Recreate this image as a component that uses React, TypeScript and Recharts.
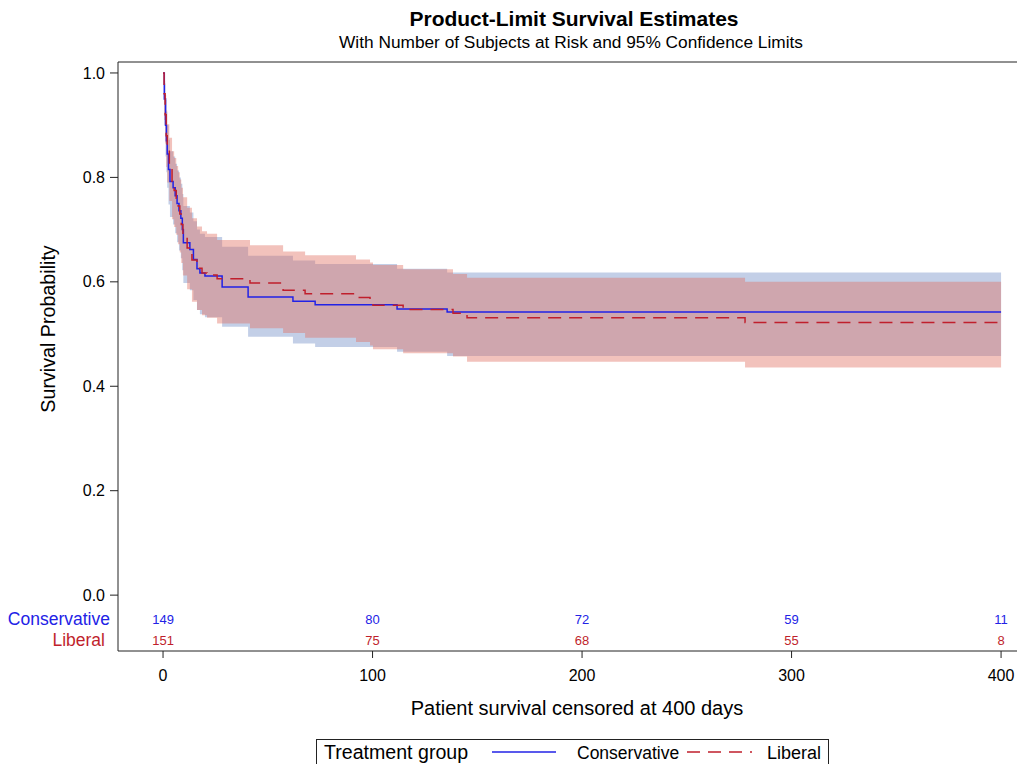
import React from "react";
import {
  ComposedChart,
  Area,
  Line,
  Scatter,
  XAxis,
  YAxis,
  ReferenceLine,
} from "recharts";

// ---- Conservative group (Kaplan-Meier estimate and 95% CI) ----
const consTime = [0, 0.6, 1.2, 1.6, 2, 2.6, 3.3, 4.8, 5.8, 6.7, 7.6, 8.5, 9.2, 9.7, 12.8, 14.5, 16.2, 17.6, 20, 28.2, 40.6, 62, 72.6, 111.7, 135.6, 400];
const consSurv = [1.0, 0.95, 0.9, 0.87, 0.845, 0.815, 0.792, 0.78, 0.765, 0.75, 0.736, 0.722, 0.70, 0.675, 0.662, 0.643, 0.625, 0.617, 0.611, 0.59, 0.571, 0.563, 0.556, 0.548, 0.542, 0.542];
const consLower = [1.0, 0.9, 0.84, 0.81, 0.78, 0.748, 0.724, 0.71, 0.693, 0.676, 0.66, 0.645, 0.622, 0.598, 0.584, 0.565, 0.546, 0.538, 0.532, 0.514, 0.495, 0.482, 0.475, 0.466, 0.458, 0.458];
const consUpper = [1.0, 0.98, 0.948, 0.925, 0.9, 0.872, 0.85, 0.84, 0.826, 0.813, 0.8, 0.788, 0.768, 0.745, 0.733, 0.716, 0.7, 0.692, 0.686, 0.667, 0.65, 0.641, 0.634, 0.625, 0.618, 0.618];

// ---- Liberal group (Kaplan-Meier estimate and 95% CI) ----
const libTime = [0, 0.5, 1, 1.5, 2, 3, 4.3, 5.3, 6.3, 7.2, 8, 8.7, 9.5, 11.5, 13.8, 16.2, 18.6, 21, 25.8, 41.5, 57.3, 67.8, 92.1, 98.8, 100.2, 114.6, 138.4, 145.1, 277.8, 400];
const libSurv = [1.0, 0.96, 0.92, 0.88, 0.85, 0.82, 0.79, 0.775, 0.76, 0.745, 0.73, 0.71, 0.69, 0.665, 0.642, 0.626, 0.617, 0.613, 0.606, 0.598, 0.584, 0.577, 0.57, 0.562, 0.555, 0.547, 0.54, 0.531, 0.522, 0.522];
const libLower = [1.0, 0.91, 0.865, 0.82, 0.79, 0.755, 0.72, 0.705, 0.69, 0.672, 0.656, 0.636, 0.612, 0.586, 0.562, 0.546, 0.536, 0.531, 0.52, 0.511, 0.502, 0.493, 0.485, 0.478, 0.471, 0.463, 0.457, 0.447, 0.436, 0.436];
const libUpper = [1.0, 0.985, 0.958, 0.928, 0.902, 0.876, 0.85, 0.837, 0.822, 0.81, 0.796, 0.78, 0.762, 0.742, 0.722, 0.706, 0.697, 0.692, 0.68, 0.67, 0.658, 0.651, 0.643, 0.637, 0.632, 0.624, 0.615, 0.608, 0.6, 0.6];

// ---- Number at risk ----
const riskTimes = [0, 100, 200, 300, 400];
const consRisk = [149, 80, 72, 59, 11];
const libRisk = [151, 75, 68, 55, 8];

// ---- Axis ticks ----
const xTicks = [0, 100, 200, 300, 400];
const yTicks = [0, 0.2, 0.4, 0.6, 0.8, 1.0];

const BLUE = "#2222e6";
const RED = "#c01f2c";
const FONT = "'Liberation Sans', Arial, sans-serif";

const X_MIN = -21.5;
const X_MAX = 407.6;
const Y_MIN = -0.107;
const Y_MAX = 1.021;
const ROW_CONS = -0.046;
const ROW_LIB = -0.086;

const consData = consTime.map((t, i) => ({ t, s: consSurv[i], band: [consLower[i], consUpper[i]] }));
const libData = libTime.map((t, i) => ({ t, s: libSurv[i], band: [libLower[i], libUpper[i]] }));
const consRiskData = riskTimes.map((t, i) => ({ t, y: ROW_CONS, n: consRisk[i] }));
const libRiskData = riskTimes.map((t, i) => ({ t, y: ROW_LIB, n: libRisk[i] }));

const YTick = (props: any) => {
  const { x, y, payload } = props;
  const v = payload.value;
  if (v === ROW_CONS) {
    return (
      <text x={x - 8} y={y} dy="0.35em" textAnchor="end" fill={BLUE} fontSize={17.5} fontFamily={FONT}>
        Conservative
      </text>
    );
  }
  if (v === ROW_LIB) {
    return (
      <text x={x - 13} y={y} dy="0.35em" textAnchor="end" fill={RED} fontSize={17.5} fontFamily={FONT}>
        Liberal
      </text>
    );
  }
  return (
    <g>
      <line x1={x - 8} x2={x} y1={y} y2={y} stroke="#222" strokeWidth={1} />
      <text x={x - 13} y={y} dy="0.35em" textAnchor="end" fill="#000" fontSize={16} fontFamily={FONT}>
        {v.toFixed(1)}
      </text>
    </g>
  );
};

const riskShape = (color: string) => (props: any) => {
  const { cx, cy, payload } = props;
  return (
    <text x={cx} y={cy} dy="0.35em" textAnchor="middle" fill={color} fontSize={13} fontFamily={FONT}>
      {payload.n}
    </text>
  );
};

export default function App() {
  return (
    <div style={{ position: "absolute", left: 0, top: 0, width: 1017, height: 764, background: "#fff", overflow: "hidden" }}>
      <ComposedChart
        width={1017}
        height={764}
        margin={{ top: 62, right: 0, bottom: 73, left: 18 }}
      >
        <XAxis
          type="number"
          dataKey="t"
          domain={[X_MIN, X_MAX]}
          ticks={xTicks}
          allowDataOverflow
          interval={0}
          height={40}
          tickSize={7}
          tickMargin={12}
          stroke="#222"
          tick={{ fill: "#000", fontSize: 16, fontFamily: FONT }}
        />
        <YAxis
          type="number"
          domain={[Y_MIN, Y_MAX]}
          ticks={[ROW_LIB, ROW_CONS, ...yTicks]}
          allowDataOverflow
          interval={0}
          width={100}
          tickLine={false}
          tickSize={0}
          tickMargin={0}
          stroke="#222"
          tick={<YTick />}
        />
        <ReferenceLine y={Y_MAX} stroke="#222" strokeWidth={1} ifOverflow="visible" />
        <Area
          data={consData}
          dataKey="band"
          type="stepAfter"
          stroke="none"
          fill="#c3cfe7"
          fillOpacity={1}
          isAnimationActive={false}
          activeDot={false}
        />
        <Area
          data={libData}
          dataKey="band"
          type="stepAfter"
          stroke="none"
          fill="rgb(224,110,95)"
          fillOpacity={0.42}
          isAnimationActive={false}
          activeDot={false}
        />
        <Line
          data={consData}
          dataKey="s"
          type="stepAfter"
          stroke={BLUE}
          strokeWidth={1.5}
          dot={false}
          activeDot={false}
          isAnimationActive={false}
        />
        <Line
          data={libData}
          dataKey="s"
          type="stepAfter"
          stroke={RED}
          strokeWidth={1.5}
          strokeDasharray="13 8"
          dot={false}
          activeDot={false}
          isAnimationActive={false}
        />
        <Scatter data={consRiskData} dataKey="y" shape={riskShape(BLUE)} isAnimationActive={false} />
        <Scatter data={libRiskData} dataKey="y" shape={riskShape(RED)} isAnimationActive={false} />
      </ComposedChart>
      <svg width={1017} height={764} style={{ position: "absolute", left: 0, top: 0, pointerEvents: "none" }}>
        <text x={574} y={26} textAnchor="middle" fontSize={21} fontWeight="bold" fontFamily={FONT} fill="#000">
          Product-Limit Survival Estimates
        </text>
        <text x={571} y={48} textAnchor="middle" fontSize={17.3} fontFamily={FONT} fill="#000">
          With Number of Subjects at Risk and 95% Confidence Limits
        </text>
        <text x={577} y={715} textAnchor="middle" fontSize={20} fontFamily={FONT} fill="#000">
          Patient survival censored at 400 days
        </text>
        <text
          x={55}
          y={329}
          textAnchor="middle"
          fontSize={19.7}
          fontFamily={FONT}
          fill="#000"
          transform="rotate(-90 55 329)"
        >
          Survival Probability
        </text>
        <g>
          <rect x={316.5} y={739.5} width={512} height={40} fill="#fff" stroke="#222" strokeWidth={1} />
          <text x={324} y={759} fontSize={19.6} fontFamily={FONT} fill="#000">
            Treatment group
          </text>
          <line x1={492} x2={556} y1={752} y2={752} stroke={BLUE} strokeWidth={1.5} />
          <text x={577} y={759} fontSize={17.5} fontFamily={FONT} fill="#000">
            Conservative
          </text>
          <line x1={687} x2={752} y1={752} y2={752} stroke={RED} strokeWidth={1.5} strokeDasharray="13 8 13 8 13 8 2 100" />
          <text x={767} y={759} fontSize={18} fontFamily={FONT} fill="#000">
            Liberal
          </text>
        </g>
      </svg>
    </div>
  );
}
